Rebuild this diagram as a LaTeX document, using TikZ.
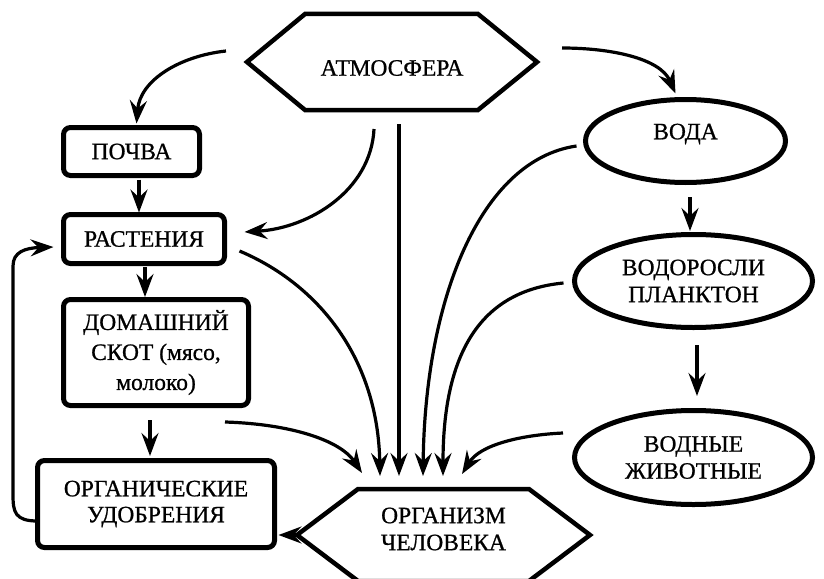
\documentclass[tikz,border=0pt]{standalone}
\usepackage{fontspec}
\setmainfont{Liberation Serif}[FakeBold=0.8]
\usetikzlibrary{arrows.meta,shapes.geometric,calc}
\begin{document}
\begin{tikzpicture}[x=1pt,y=-1pt,
  txt/.style={font=\fontsize{23.5}{27}\selectfont, align=center, inner sep=0pt},
  box/.style={draw, line width=5pt, rounded corners=7pt, inner sep=0pt, outer sep=0pt, txt},
  ell/.style={draw, ellipse, line width=5pt, inner sep=0pt, outer sep=0pt},
  hexb/.style={inner sep=0pt, outer sep=0pt},
  hexline/.style={line width=4.5pt, line join=miter},
  arr/.style={line width=3.2pt, -{Stealth[length=23pt,width=17pt,inset=8pt]}},
]
\useasboundingbox (0,0) rectangle (824,578);

% hexagons
\node[hexb, minimum width=290pt, minimum height=96pt] (atm) at (392,62) {};
\draw[hexline] (atm.west) -- ([xshift=58pt]atm.north west) -- ([xshift=-59pt]atm.north east)
  -- (atm.east) -- ([xshift=-59pt]atm.south east) -- ([xshift=58pt]atm.south west) -- cycle;
\node[txt] (atmt) at ([yshift=-6pt]atm.center) {АТМОСФЕРА};

\node[hexb, minimum width=293pt, minimum height=92pt] (org) at (443.5,535) {};
\draw[hexline] (org.west) -- ([xshift=61pt]org.north west) -- ([xshift=-61pt]org.north east)
  -- (org.east) -- ([xshift=-61pt]org.south east) -- ([xshift=61pt]org.south west) -- cycle;
\node[txt] (orgt) at ([yshift=6pt]org.center) {ОРГАНИЗМ\\ЧЕЛОВЕКА};

% boxes
\node[box, minimum width=136pt, minimum height=48pt] (pochva) at (131.5,151.5) {ПОЧВА};
\node[box, minimum width=161pt, minimum height=49pt] (rast) at (144,239) {РАСТЕНИЯ};
\node[box, minimum width=185pt, minimum height=106pt, font=\fontsize{23.5}{30}\selectfont] (skot) at (156,352.5) {ДОМАШНИЙ\\СКОТ (мясо,\\молоко)};
\node[box, minimum width=237pt, minimum height=87pt, font=\fontsize{23.5}{26}\selectfont] (udobr) at (156,504) {ОРГАНИЧЕСКИЕ\\УДОБРЕНИЯ};

% ellipses
\node[ell, minimum width=200pt, minimum height=83pt] (voda) at (685.5,141) {};
\node[txt] (vodat) at ([yshift=7pt]voda.center) {ВОДА};
\node[ell, txt, minimum width=238pt, minimum height=93pt] (vodor) at (693.5,281) {ВОДОРОСЛИ\\ПЛАНКТОН};
\node[ell, txt, minimum width=238pt, minimum height=94pt] (vodn) at (693.5,457.5) {ВОДНЫЕ\\ЖИВОТНЫЕ};

% connectors
\draw[arr] ([shift={(-21,-11)}]atm.west) .. controls (180,56) and (140,80) .. ([shift={(5,-4)}]pochva.north);
\draw[arr] ([shift={(25,-14)}]atm.east) .. controls (610,48) and (660,58) .. ([shift={(-10,-6)}]voda.north);
\draw[arr] ([shift={(-18,19)}]atm.south) .. controls (371,190) and (310,228) .. ([shift={(20,-7)}]rast.east);
\draw[arr] ([shift={(7,14)}]atm.south) -- ([shift={(-44.5,-13)}]org.north);

\draw[arr] ([shift={(7.5,4)}]pochva.south) -- ([shift={(-5,-2)}]rast.north);
\draw[arr] ([shift={(1,3.5)}]rast.south) -- ([shift={(-11,-2.5)}]skot.north);
\draw[arr] ([shift={(-6,14.5)}]skot.south) -- ([shift={(-6,-4.5)}]udobr.north);
\draw[arr] ([shift={(4.5,14.5)}]voda.south) -- ([shift={(-3.5,-3.5)}]vodor.north);
\draw[arr] ([shift={(3.5,17.5)}]vodor.south) -- ([shift={(3.5,-14.5)}]vodn.north);

\draw[arr] ([shift={(0,17)}]udobr.west) .. controls (15,521) and (13,512) .. (13,495)
  -- (13,266) .. controls (13,252) and (25,248) .. ([shift={(-10,8)}]rast.west);
\draw[arr] (org.west) -- ([shift={(4,31)}]udobr.east);

\draw[arr] ([shift={(15,12)}]rast.east) .. controls (320,285) and (378,360) .. ([shift={(-63.5,-13)}]org.north);
\draw[arr] ([shift={(-23.5,16.5)}]skot.south east) .. controls (290,424) and (340,440) .. ([shift={(-81.5,-16)}]org.north);
\draw[arr] ([shift={(-9,5)}]voda.west) .. controls (480,160) and (425,300) .. ([shift={(-20.5,-13)}]org.north);
\draw[arr] ([shift={(-11,2)}]vodor.west) .. controls (490,290) and (443,340) .. ([shift={(-0.5,-13)}]org.north);
\draw[arr] ([shift={(-11.5,-24.5)}]vodn.west) .. controls (520,435) and (480,445) .. ([shift={(18.5,-15)}]org.north);
\end{tikzpicture}
\end{document}
